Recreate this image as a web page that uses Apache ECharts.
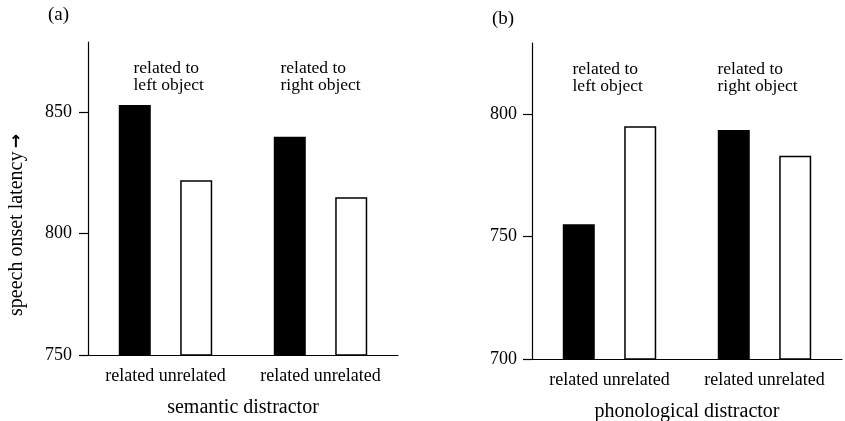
<!DOCTYPE html>
<html>
<head>
<meta charset="utf-8">
<script src="https://cdn.jsdelivr.net/npm/echarts@6/dist/echarts.min.js"></script>
<style>
html,body{margin:0;padding:0;background:#fff;}
#chart{width:845px;height:421px;}
</style>
</head>
<body>
<div id="chart"></div>
<script>
// ---- data ----
const groups = ['related to\nleft object', 'related to\nright object'];
const conditions = ['related', 'unrelated'];
const semanticRelated = [853, 840];
const semanticUnrelated = [822, 815];
const phonologicalRelated = [755, 793.5];
const phonologicalUnrelated = [795, 783];
const semanticTicks = [750, 800, 850];
const phonologicalTicks = [700, 750, 800];
const panelTitles = ['(a)', '(b)'];
const panelNames = ['semantic distractor', 'phonological distractor'];
const yAxisTitle = 'speech onset latency';

// ---- chart ----
const FONT = '"Liberation Serif", "DejaVu Serif", "Times New Roman", serif';
const chart = echarts.init(document.getElementById('chart'), null, {renderer: 'canvas'});

function xAxisFor(i) {
  return {
    type: 'category', gridIndex: i, data: groups,
    axisLine: {lineStyle: {color: '#000', width: 1.2}},
    axisTick: {show: false},
    axisLabel: {interval: 0, hideOverlap: false, formatter: () => conditions.join(' '),
      color: '#000', fontFamily: FONT, fontSize: 18, margin: 12},
    name: panelNames[i], nameLocation: 'middle', nameGap: 43,
    nameTextStyle: {color: '#000', fontFamily: FONT, fontSize: 20}
  };
}
function yAxisFor(i, ticks, max, margin) {
  return {
    type: 'value', gridIndex: i, min: ticks[0], max: max, interval: 50,
    axisLine: {show: true, lineStyle: {color: '#000', width: 1.2}},
    axisTick: {show: true, length: 9, lineStyle: {color: '#000', width: 1.2}, customValues: ticks},
    axisLabel: {color: '#000', fontFamily: FONT, fontSize: 18, margin: margin, customValues: ticks},
    splitLine: {show: false}
  };
}
function barSeries(i, name, data, filled) {
  return {
    type: 'bar', name: name, xAxisIndex: i, yAxisIndex: i, data: data,
    barWidth: 32, barGap: '92%',
    itemStyle: filled ? {color: '#000'} : {color: '#fff', borderColor: '#000', borderWidth: 1.5},
    silent: true, animation: false
  };
}

chart.setOption({
  animation: false,
  grid: [
    {left: 88, top: 42, width: 310, height: 313, outerBoundsMode: 'none', containLabel: false},
    {left: 532, top: 43, width: 310, height: 316, outerBoundsMode: 'none', containLabel: false}
  ],
  xAxis: [xAxisFor(0), xAxisFor(1)],
  yAxis: [yAxisFor(0, semanticTicks, 879, 16), yAxisFor(1, phonologicalTicks, 829, 15)],
  series: [
    barSeries(0, conditions[0], semanticRelated, true),
    barSeries(0, conditions[1], semanticUnrelated, false),
    barSeries(1, conditions[0], phonologicalRelated, true),
    barSeries(1, conditions[1], phonologicalUnrelated, false)
  ]
});

// annotations placed via the axes' scales
const graphics = [];
const panelYMax = [879, 829];
const letterDy = [-27, -24];
const annotDx = [[-32, -40], [-37, -47]];
[0, 1].forEach(function (p) {
  const topPx = chart.convertToPixel({yAxisIndex: p}, panelYMax[p]);
  groups.forEach(function (g, gi) {
    const cx = chart.convertToPixel({xAxisIndex: p}, gi);
    graphics.push({
      type: 'text', x: cx + annotDx[p][gi], y: topPx + 18,
      style: {text: g, font: '17.5px ' + FONT, fill: '#000', align: 'left', verticalAlign: 'top', lineHeight: 17}
    });
  });
  const axisLeft = chart.convertToPixel({xAxisIndex: p}, 0) - 77.5;
  graphics.push({
    type: 'text', x: axisLeft - 40, y: topPx + letterDy[p],
    style: {text: panelTitles[p], font: '19px ' + FONT, fill: '#000', align: 'left', verticalAlign: 'middle'}
  });
});
graphics.push({
  type: 'text', x: 17, y: 225, rotation: Math.PI / 2,
  style: {
    text: '{t|' + yAxisTitle + '} {a|\u2192}',
    align: 'center', verticalAlign: 'middle',
    rich: {
      t: {font: '20px ' + FONT, fill: '#000'},
      a: {font: 'bold 17px "DejaVu Sans", sans-serif', fill: '#000'}
    }
  }
});
chart.setOption({graphic: graphics});
</script>
</body>
</html>
